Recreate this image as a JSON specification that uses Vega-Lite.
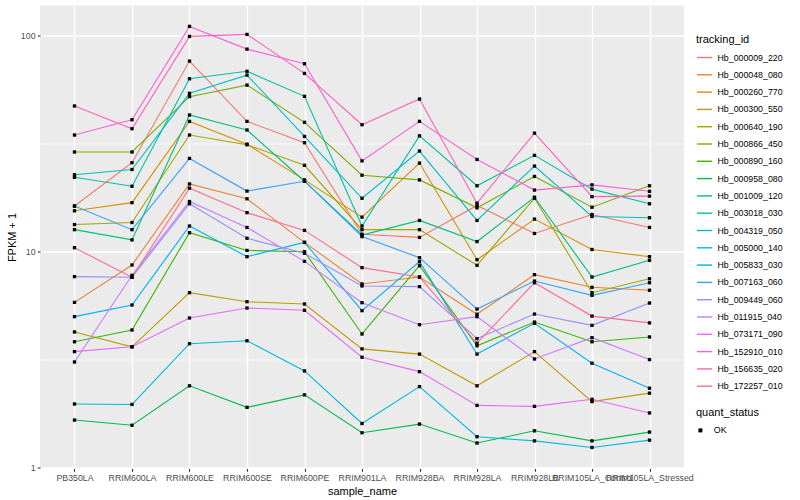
{
"$schema": "https://vega.github.io/schema/vega-lite/v6.json",
"width": 644, "height": 463,
"autosize": {"type": "none"},
"padding": {"left": 40, "top": 5.5, "right": 116, "bottom": 31.5},
"config": {
  "font": "Liberation Sans",
  "view": {"fill": "#EBEBEB", "stroke": null},
  "axis": {"domain": false, "gridColor": "#FFFFFF", "tickColor": "#333333", "tickSize": 2.75, "tickWidth": 1.1, "labelColor": "#4D4D4D", "labelFontSize": 8.8, "titleFontSize": 11, "titleFontWeight": "normal", "titleColor": "#000000", "labelPadding": 2.2},
  "legend": {"titleFontSize": 11, "titleFontWeight": "normal", "labelFontSize": 8.8, "labelColor": "#000000", "titleColor": "#000000"}
},
"data": {"values": [
{"tracking_id":"Hb_000009_220","sample_name":"PB350LA","FPKM":16.2,"quant_status":"OK"},
{"tracking_id":"Hb_000009_220","sample_name":"RRIM600LA","FPKM":25.7,"quant_status":"OK"},
{"tracking_id":"Hb_000009_220","sample_name":"RRIM600LE","FPKM":75.8,"quant_status":"OK"},
{"tracking_id":"Hb_000009_220","sample_name":"RRIM600SE","FPKM":39.9,"quant_status":"OK"},
{"tracking_id":"Hb_000009_220","sample_name":"RRIM600PE","FPKM":31.8,"quant_status":"OK"},
{"tracking_id":"Hb_000009_220","sample_name":"RRIM901LA","FPKM":12.0,"quant_status":"OK"},
{"tracking_id":"Hb_000009_220","sample_name":"RRIM928BA","FPKM":11.6,"quant_status":"OK"},
{"tracking_id":"Hb_000009_220","sample_name":"RRIM928LA","FPKM":16.3,"quant_status":"OK"},
{"tracking_id":"Hb_000009_220","sample_name":"RRIM928LB","FPKM":12.1,"quant_status":"OK"},
{"tracking_id":"Hb_000009_220","sample_name":"RRIM105LA_Control","FPKM":14.8,"quant_status":"OK"},
{"tracking_id":"Hb_000009_220","sample_name":"RRIM105LA_Stressed","FPKM":12.9,"quant_status":"OK"},
{"tracking_id":"Hb_000048_080","sample_name":"PB350LA","FPKM":5.81,"quant_status":"OK"},
{"tracking_id":"Hb_000048_080","sample_name":"RRIM600LA","FPKM":8.65,"quant_status":"OK"},
{"tracking_id":"Hb_000048_080","sample_name":"RRIM600LE","FPKM":20.5,"quant_status":"OK"},
{"tracking_id":"Hb_000048_080","sample_name":"RRIM600SE","FPKM":17.5,"quant_status":"OK"},
{"tracking_id":"Hb_000048_080","sample_name":"RRIM600PE","FPKM":11.0,"quant_status":"OK"},
{"tracking_id":"Hb_000048_080","sample_name":"RRIM901LA","FPKM":7.07,"quant_status":"OK"},
{"tracking_id":"Hb_000048_080","sample_name":"RRIM928BA","FPKM":7.61,"quant_status":"OK"},
{"tracking_id":"Hb_000048_080","sample_name":"RRIM928LA","FPKM":5.12,"quant_status":"OK"},
{"tracking_id":"Hb_000048_080","sample_name":"RRIM928LB","FPKM":7.80,"quant_status":"OK"},
{"tracking_id":"Hb_000048_080","sample_name":"RRIM105LA_Control","FPKM":6.82,"quant_status":"OK"},
{"tracking_id":"Hb_000048_080","sample_name":"RRIM105LA_Stressed","FPKM":6.61,"quant_status":"OK"},
{"tracking_id":"Hb_000260_770","sample_name":"PB350LA","FPKM":15.4,"quant_status":"OK"},
{"tracking_id":"Hb_000260_770","sample_name":"RRIM600LA","FPKM":16.8,"quant_status":"OK"},
{"tracking_id":"Hb_000260_770","sample_name":"RRIM600LE","FPKM":39.9,"quant_status":"OK"},
{"tracking_id":"Hb_000260_770","sample_name":"RRIM600SE","FPKM":31.3,"quant_status":"OK"},
{"tracking_id":"Hb_000260_770","sample_name":"RRIM600PE","FPKM":21.4,"quant_status":"OK"},
{"tracking_id":"Hb_000260_770","sample_name":"RRIM901LA","FPKM":14.4,"quant_status":"OK"},
{"tracking_id":"Hb_000260_770","sample_name":"RRIM928BA","FPKM":25.6,"quant_status":"OK"},
{"tracking_id":"Hb_000260_770","sample_name":"RRIM928LA","FPKM":9.15,"quant_status":"OK"},
{"tracking_id":"Hb_000260_770","sample_name":"RRIM928LB","FPKM":14.1,"quant_status":"OK"},
{"tracking_id":"Hb_000260_770","sample_name":"RRIM105LA_Control","FPKM":10.2,"quant_status":"OK"},
{"tracking_id":"Hb_000260_770","sample_name":"RRIM105LA_Stressed","FPKM":9.45,"quant_status":"OK"},
{"tracking_id":"Hb_000300_550","sample_name":"PB350LA","FPKM":4.24,"quant_status":"OK"},
{"tracking_id":"Hb_000300_550","sample_name":"RRIM600LA","FPKM":3.62,"quant_status":"OK"},
{"tracking_id":"Hb_000300_550","sample_name":"RRIM600LE","FPKM":6.44,"quant_status":"OK"},
{"tracking_id":"Hb_000300_550","sample_name":"RRIM600SE","FPKM":5.85,"quant_status":"OK"},
{"tracking_id":"Hb_000300_550","sample_name":"RRIM600PE","FPKM":5.71,"quant_status":"OK"},
{"tracking_id":"Hb_000300_550","sample_name":"RRIM901LA","FPKM":3.54,"quant_status":"OK"},
{"tracking_id":"Hb_000300_550","sample_name":"RRIM928BA","FPKM":3.35,"quant_status":"OK"},
{"tracking_id":"Hb_000300_550","sample_name":"RRIM928LA","FPKM":2.39,"quant_status":"OK"},
{"tracking_id":"Hb_000300_550","sample_name":"RRIM928LB","FPKM":3.44,"quant_status":"OK"},
{"tracking_id":"Hb_000300_550","sample_name":"RRIM105LA_Control","FPKM":2.02,"quant_status":"OK"},
{"tracking_id":"Hb_000300_550","sample_name":"RRIM105LA_Stressed","FPKM":2.21,"quant_status":"OK"},
{"tracking_id":"Hb_000640_190","sample_name":"PB350LA","FPKM":13.3,"quant_status":"OK"},
{"tracking_id":"Hb_000640_190","sample_name":"RRIM600LA","FPKM":13.6,"quant_status":"OK"},
{"tracking_id":"Hb_000640_190","sample_name":"RRIM600LE","FPKM":34.5,"quant_status":"OK"},
{"tracking_id":"Hb_000640_190","sample_name":"RRIM600SE","FPKM":31.1,"quant_status":"OK"},
{"tracking_id":"Hb_000640_190","sample_name":"RRIM600PE","FPKM":25.0,"quant_status":"OK"},
{"tracking_id":"Hb_000640_190","sample_name":"RRIM901LA","FPKM":12.6,"quant_status":"OK"},
{"tracking_id":"Hb_000640_190","sample_name":"RRIM928BA","FPKM":12.6,"quant_status":"OK"},
{"tracking_id":"Hb_000640_190","sample_name":"RRIM928LA","FPKM":8.62,"quant_status":"OK"},
{"tracking_id":"Hb_000640_190","sample_name":"RRIM928LB","FPKM":17.6,"quant_status":"OK"},
{"tracking_id":"Hb_000640_190","sample_name":"RRIM105LA_Control","FPKM":6.44,"quant_status":"OK"},
{"tracking_id":"Hb_000640_190","sample_name":"RRIM105LA_Stressed","FPKM":7.47,"quant_status":"OK"},
{"tracking_id":"Hb_000866_450","sample_name":"PB350LA","FPKM":28.8,"quant_status":"OK"},
{"tracking_id":"Hb_000866_450","sample_name":"RRIM600LA","FPKM":28.8,"quant_status":"OK"},
{"tracking_id":"Hb_000866_450","sample_name":"RRIM600LE","FPKM":51.9,"quant_status":"OK"},
{"tracking_id":"Hb_000866_450","sample_name":"RRIM600SE","FPKM":58.7,"quant_status":"OK"},
{"tracking_id":"Hb_000866_450","sample_name":"RRIM600PE","FPKM":39.5,"quant_status":"OK"},
{"tracking_id":"Hb_000866_450","sample_name":"RRIM901LA","FPKM":22.5,"quant_status":"OK"},
{"tracking_id":"Hb_000866_450","sample_name":"RRIM928BA","FPKM":21.4,"quant_status":"OK"},
{"tracking_id":"Hb_000866_450","sample_name":"RRIM928LA","FPKM":15.9,"quant_status":"OK"},
{"tracking_id":"Hb_000866_450","sample_name":"RRIM928LB","FPKM":22.2,"quant_status":"OK"},
{"tracking_id":"Hb_000866_450","sample_name":"RRIM105LA_Control","FPKM":16.0,"quant_status":"OK"},
{"tracking_id":"Hb_000866_450","sample_name":"RRIM105LA_Stressed","FPKM":20.1,"quant_status":"OK"},
{"tracking_id":"Hb_000890_160","sample_name":"PB350LA","FPKM":3.82,"quant_status":"OK"},
{"tracking_id":"Hb_000890_160","sample_name":"RRIM600LA","FPKM":4.33,"quant_status":"OK"},
{"tracking_id":"Hb_000890_160","sample_name":"RRIM600LE","FPKM":12.2,"quant_status":"OK"},
{"tracking_id":"Hb_000890_160","sample_name":"RRIM600SE","FPKM":10.1,"quant_status":"OK"},
{"tracking_id":"Hb_000890_160","sample_name":"RRIM600PE","FPKM":9.96,"quant_status":"OK"},
{"tracking_id":"Hb_000890_160","sample_name":"RRIM901LA","FPKM":4.15,"quant_status":"OK"},
{"tracking_id":"Hb_000890_160","sample_name":"RRIM928BA","FPKM":8.58,"quant_status":"OK"},
{"tracking_id":"Hb_000890_160","sample_name":"RRIM928LA","FPKM":3.66,"quant_status":"OK"},
{"tracking_id":"Hb_000890_160","sample_name":"RRIM928LB","FPKM":4.71,"quant_status":"OK"},
{"tracking_id":"Hb_000890_160","sample_name":"RRIM105LA_Control","FPKM":3.82,"quant_status":"OK"},
{"tracking_id":"Hb_000890_160","sample_name":"RRIM105LA_Stressed","FPKM":4.02,"quant_status":"OK"},
{"tracking_id":"Hb_000958_080","sample_name":"PB350LA","FPKM":1.66,"quant_status":"OK"},
{"tracking_id":"Hb_000958_080","sample_name":"RRIM600LA","FPKM":1.57,"quant_status":"OK"},
{"tracking_id":"Hb_000958_080","sample_name":"RRIM600LE","FPKM":2.39,"quant_status":"OK"},
{"tracking_id":"Hb_000958_080","sample_name":"RRIM600SE","FPKM":1.90,"quant_status":"OK"},
{"tracking_id":"Hb_000958_080","sample_name":"RRIM600PE","FPKM":2.17,"quant_status":"OK"},
{"tracking_id":"Hb_000958_080","sample_name":"RRIM901LA","FPKM":1.45,"quant_status":"OK"},
{"tracking_id":"Hb_000958_080","sample_name":"RRIM928BA","FPKM":1.59,"quant_status":"OK"},
{"tracking_id":"Hb_000958_080","sample_name":"RRIM928LA","FPKM":1.30,"quant_status":"OK"},
{"tracking_id":"Hb_000958_080","sample_name":"RRIM928LB","FPKM":1.48,"quant_status":"OK"},
{"tracking_id":"Hb_000958_080","sample_name":"RRIM105LA_Control","FPKM":1.33,"quant_status":"OK"},
{"tracking_id":"Hb_000958_080","sample_name":"RRIM105LA_Stressed","FPKM":1.46,"quant_status":"OK"},
{"tracking_id":"Hb_001009_120","sample_name":"PB350LA","FPKM":12.6,"quant_status":"OK"},
{"tracking_id":"Hb_001009_120","sample_name":"RRIM600LA","FPKM":11.3,"quant_status":"OK"},
{"tracking_id":"Hb_001009_120","sample_name":"RRIM600LE","FPKM":42.7,"quant_status":"OK"},
{"tracking_id":"Hb_001009_120","sample_name":"RRIM600SE","FPKM":36.4,"quant_status":"OK"},
{"tracking_id":"Hb_001009_120","sample_name":"RRIM600PE","FPKM":21.1,"quant_status":"OK"},
{"tracking_id":"Hb_001009_120","sample_name":"RRIM901LA","FPKM":11.9,"quant_status":"OK"},
{"tracking_id":"Hb_001009_120","sample_name":"RRIM928BA","FPKM":13.9,"quant_status":"OK"},
{"tracking_id":"Hb_001009_120","sample_name":"RRIM928LA","FPKM":11.1,"quant_status":"OK"},
{"tracking_id":"Hb_001009_120","sample_name":"RRIM928LB","FPKM":17.8,"quant_status":"OK"},
{"tracking_id":"Hb_001009_120","sample_name":"RRIM105LA_Control","FPKM":7.61,"quant_status":"OK"},
{"tracking_id":"Hb_001009_120","sample_name":"RRIM105LA_Stressed","FPKM":9.09,"quant_status":"OK"},
{"tracking_id":"Hb_003018_030","sample_name":"PB350LA","FPKM":22.0,"quant_status":"OK"},
{"tracking_id":"Hb_003018_030","sample_name":"RRIM600LA","FPKM":20.0,"quant_status":"OK"},
{"tracking_id":"Hb_003018_030","sample_name":"RRIM600LE","FPKM":62.8,"quant_status":"OK"},
{"tracking_id":"Hb_003018_030","sample_name":"RRIM600SE","FPKM":68.0,"quant_status":"OK"},
{"tracking_id":"Hb_003018_030","sample_name":"RRIM600PE","FPKM":52.1,"quant_status":"OK"},
{"tracking_id":"Hb_003018_030","sample_name":"RRIM901LA","FPKM":13.1,"quant_status":"OK"},
{"tracking_id":"Hb_003018_030","sample_name":"RRIM928BA","FPKM":34.2,"quant_status":"OK"},
{"tracking_id":"Hb_003018_030","sample_name":"RRIM928LA","FPKM":20.1,"quant_status":"OK"},
{"tracking_id":"Hb_003018_030","sample_name":"RRIM928LB","FPKM":27.8,"quant_status":"OK"},
{"tracking_id":"Hb_003018_030","sample_name":"RRIM105LA_Control","FPKM":19.4,"quant_status":"OK"},
{"tracking_id":"Hb_003018_030","sample_name":"RRIM105LA_Stressed","FPKM":16.6,"quant_status":"OK"},
{"tracking_id":"Hb_004319_050","sample_name":"PB350LA","FPKM":22.6,"quant_status":"OK"},
{"tracking_id":"Hb_004319_050","sample_name":"RRIM600LA","FPKM":23.9,"quant_status":"OK"},
{"tracking_id":"Hb_004319_050","sample_name":"RRIM600LE","FPKM":53.8,"quant_status":"OK"},
{"tracking_id":"Hb_004319_050","sample_name":"RRIM600SE","FPKM":65.3,"quant_status":"OK"},
{"tracking_id":"Hb_004319_050","sample_name":"RRIM600PE","FPKM":34.0,"quant_status":"OK"},
{"tracking_id":"Hb_004319_050","sample_name":"RRIM901LA","FPKM":17.6,"quant_status":"OK"},
{"tracking_id":"Hb_004319_050","sample_name":"RRIM928BA","FPKM":29.1,"quant_status":"OK"},
{"tracking_id":"Hb_004319_050","sample_name":"RRIM928LA","FPKM":13.9,"quant_status":"OK"},
{"tracking_id":"Hb_004319_050","sample_name":"RRIM928LB","FPKM":24.8,"quant_status":"OK"},
{"tracking_id":"Hb_004319_050","sample_name":"RRIM105LA_Control","FPKM":14.5,"quant_status":"OK"},
{"tracking_id":"Hb_004319_050","sample_name":"RRIM105LA_Stressed","FPKM":14.3,"quant_status":"OK"},
{"tracking_id":"Hb_005000_140","sample_name":"PB350LA","FPKM":1.97,"quant_status":"OK"},
{"tracking_id":"Hb_005000_140","sample_name":"RRIM600LA","FPKM":1.96,"quant_status":"OK"},
{"tracking_id":"Hb_005000_140","sample_name":"RRIM600LE","FPKM":3.74,"quant_status":"OK"},
{"tracking_id":"Hb_005000_140","sample_name":"RRIM600SE","FPKM":3.86,"quant_status":"OK"},
{"tracking_id":"Hb_005000_140","sample_name":"RRIM600PE","FPKM":2.80,"quant_status":"OK"},
{"tracking_id":"Hb_005000_140","sample_name":"RRIM901LA","FPKM":1.60,"quant_status":"OK"},
{"tracking_id":"Hb_005000_140","sample_name":"RRIM928BA","FPKM":2.37,"quant_status":"OK"},
{"tracking_id":"Hb_005000_140","sample_name":"RRIM928LA","FPKM":1.39,"quant_status":"OK"},
{"tracking_id":"Hb_005000_140","sample_name":"RRIM928LB","FPKM":1.33,"quant_status":"OK"},
{"tracking_id":"Hb_005000_140","sample_name":"RRIM105LA_Control","FPKM":1.24,"quant_status":"OK"},
{"tracking_id":"Hb_005000_140","sample_name":"RRIM105LA_Stressed","FPKM":1.34,"quant_status":"OK"},
{"tracking_id":"Hb_005833_030","sample_name":"PB350LA","FPKM":4.99,"quant_status":"OK"},
{"tracking_id":"Hb_005833_030","sample_name":"RRIM600LA","FPKM":5.65,"quant_status":"OK"},
{"tracking_id":"Hb_005833_030","sample_name":"RRIM600LE","FPKM":13.1,"quant_status":"OK"},
{"tracking_id":"Hb_005833_030","sample_name":"RRIM600SE","FPKM":9.45,"quant_status":"OK"},
{"tracking_id":"Hb_005833_030","sample_name":"RRIM600PE","FPKM":11.0,"quant_status":"OK"},
{"tracking_id":"Hb_005833_030","sample_name":"RRIM901LA","FPKM":5.32,"quant_status":"OK"},
{"tracking_id":"Hb_005833_030","sample_name":"RRIM928BA","FPKM":8.96,"quant_status":"OK"},
{"tracking_id":"Hb_005833_030","sample_name":"RRIM928LA","FPKM":3.35,"quant_status":"OK"},
{"tracking_id":"Hb_005833_030","sample_name":"RRIM928LB","FPKM":4.65,"quant_status":"OK"},
{"tracking_id":"Hb_005833_030","sample_name":"RRIM105LA_Control","FPKM":3.04,"quant_status":"OK"},
{"tracking_id":"Hb_005833_030","sample_name":"RRIM105LA_Stressed","FPKM":2.33,"quant_status":"OK"},
{"tracking_id":"Hb_007163_060","sample_name":"PB350LA","FPKM":16.2,"quant_status":"OK"},
{"tracking_id":"Hb_007163_060","sample_name":"RRIM600LA","FPKM":12.6,"quant_status":"OK"},
{"tracking_id":"Hb_007163_060","sample_name":"RRIM600LE","FPKM":26.9,"quant_status":"OK"},
{"tracking_id":"Hb_007163_060","sample_name":"RRIM600SE","FPKM":19.0,"quant_status":"OK"},
{"tracking_id":"Hb_007163_060","sample_name":"RRIM600PE","FPKM":21.1,"quant_status":"OK"},
{"tracking_id":"Hb_007163_060","sample_name":"RRIM901LA","FPKM":11.7,"quant_status":"OK"},
{"tracking_id":"Hb_007163_060","sample_name":"RRIM928BA","FPKM":9.35,"quant_status":"OK"},
{"tracking_id":"Hb_007163_060","sample_name":"RRIM928LA","FPKM":5.41,"quant_status":"OK"},
{"tracking_id":"Hb_007163_060","sample_name":"RRIM928LB","FPKM":7.29,"quant_status":"OK"},
{"tracking_id":"Hb_007163_060","sample_name":"RRIM105LA_Control","FPKM":6.26,"quant_status":"OK"},
{"tracking_id":"Hb_007163_060","sample_name":"RRIM105LA_Stressed","FPKM":7.16,"quant_status":"OK"},
{"tracking_id":"Hb_009449_060","sample_name":"PB350LA","FPKM":7.64,"quant_status":"OK"},
{"tracking_id":"Hb_009449_060","sample_name":"RRIM600LA","FPKM":7.59,"quant_status":"OK"},
{"tracking_id":"Hb_009449_060","sample_name":"RRIM600LE","FPKM":16.6,"quant_status":"OK"},
{"tracking_id":"Hb_009449_060","sample_name":"RRIM600SE","FPKM":11.5,"quant_status":"OK"},
{"tracking_id":"Hb_009449_060","sample_name":"RRIM600PE","FPKM":9.80,"quant_status":"OK"},
{"tracking_id":"Hb_009449_060","sample_name":"RRIM901LA","FPKM":6.92,"quant_status":"OK"},
{"tracking_id":"Hb_009449_060","sample_name":"RRIM928BA","FPKM":6.87,"quant_status":"OK"},
{"tracking_id":"Hb_009449_060","sample_name":"RRIM928LA","FPKM":3.95,"quant_status":"OK"},
{"tracking_id":"Hb_009449_060","sample_name":"RRIM928LB","FPKM":5.13,"quant_status":"OK"},
{"tracking_id":"Hb_009449_060","sample_name":"RRIM105LA_Control","FPKM":4.55,"quant_status":"OK"},
{"tracking_id":"Hb_009449_060","sample_name":"RRIM105LA_Stressed","FPKM":5.77,"quant_status":"OK"},
{"tracking_id":"Hb_011915_040","sample_name":"PB350LA","FPKM":3.08,"quant_status":"OK"},
{"tracking_id":"Hb_011915_040","sample_name":"RRIM600LA","FPKM":7.75,"quant_status":"OK"},
{"tracking_id":"Hb_011915_040","sample_name":"RRIM600LE","FPKM":17.0,"quant_status":"OK"},
{"tracking_id":"Hb_011915_040","sample_name":"RRIM600SE","FPKM":12.9,"quant_status":"OK"},
{"tracking_id":"Hb_011915_040","sample_name":"RRIM600PE","FPKM":8.99,"quant_status":"OK"},
{"tracking_id":"Hb_011915_040","sample_name":"RRIM901LA","FPKM":5.79,"quant_status":"OK"},
{"tracking_id":"Hb_011915_040","sample_name":"RRIM928BA","FPKM":4.58,"quant_status":"OK"},
{"tracking_id":"Hb_011915_040","sample_name":"RRIM928LA","FPKM":4.99,"quant_status":"OK"},
{"tracking_id":"Hb_011915_040","sample_name":"RRIM928LB","FPKM":3.18,"quant_status":"OK"},
{"tracking_id":"Hb_011915_040","sample_name":"RRIM105LA_Control","FPKM":3.99,"quant_status":"OK"},
{"tracking_id":"Hb_011915_040","sample_name":"RRIM105LA_Stressed","FPKM":3.16,"quant_status":"OK"},
{"tracking_id":"Hb_073171_090","sample_name":"PB350LA","FPKM":3.44,"quant_status":"OK"},
{"tracking_id":"Hb_073171_090","sample_name":"RRIM600LA","FPKM":3.62,"quant_status":"OK"},
{"tracking_id":"Hb_073171_090","sample_name":"RRIM600LE","FPKM":4.92,"quant_status":"OK"},
{"tracking_id":"Hb_073171_090","sample_name":"RRIM600SE","FPKM":5.47,"quant_status":"OK"},
{"tracking_id":"Hb_073171_090","sample_name":"RRIM600PE","FPKM":5.34,"quant_status":"OK"},
{"tracking_id":"Hb_073171_090","sample_name":"RRIM901LA","FPKM":3.24,"quant_status":"OK"},
{"tracking_id":"Hb_073171_090","sample_name":"RRIM928BA","FPKM":2.78,"quant_status":"OK"},
{"tracking_id":"Hb_073171_090","sample_name":"RRIM928LA","FPKM":1.94,"quant_status":"OK"},
{"tracking_id":"Hb_073171_090","sample_name":"RRIM928LB","FPKM":1.92,"quant_status":"OK"},
{"tracking_id":"Hb_073171_090","sample_name":"RRIM105LA_Control","FPKM":2.07,"quant_status":"OK"},
{"tracking_id":"Hb_073171_090","sample_name":"RRIM105LA_Stressed","FPKM":1.79,"quant_status":"OK"},
{"tracking_id":"Hb_152910_010","sample_name":"PB350LA","FPKM":34.5,"quant_status":"OK"},
{"tracking_id":"Hb_152910_010","sample_name":"RRIM600LA","FPKM":40.6,"quant_status":"OK"},
{"tracking_id":"Hb_152910_010","sample_name":"RRIM600LE","FPKM":109.7,"quant_status":"OK"},
{"tracking_id":"Hb_152910_010","sample_name":"RRIM600SE","FPKM":86.1,"quant_status":"OK"},
{"tracking_id":"Hb_152910_010","sample_name":"RRIM600PE","FPKM":73.7,"quant_status":"OK"},
{"tracking_id":"Hb_152910_010","sample_name":"RRIM901LA","FPKM":26.2,"quant_status":"OK"},
{"tracking_id":"Hb_152910_010","sample_name":"RRIM928BA","FPKM":39.9,"quant_status":"OK"},
{"tracking_id":"Hb_152910_010","sample_name":"RRIM928LA","FPKM":26.6,"quant_status":"OK"},
{"tracking_id":"Hb_152910_010","sample_name":"RRIM928LB","FPKM":19.2,"quant_status":"OK"},
{"tracking_id":"Hb_152910_010","sample_name":"RRIM105LA_Control","FPKM":20.3,"quant_status":"OK"},
{"tracking_id":"Hb_152910_010","sample_name":"RRIM105LA_Stressed","FPKM":18.95,"quant_status":"OK"},
{"tracking_id":"Hb_156635_020","sample_name":"PB350LA","FPKM":47.0,"quant_status":"OK"},
{"tracking_id":"Hb_156635_020","sample_name":"RRIM600LA","FPKM":36.9,"quant_status":"OK"},
{"tracking_id":"Hb_156635_020","sample_name":"RRIM600LE","FPKM":98.6,"quant_status":"OK"},
{"tracking_id":"Hb_156635_020","sample_name":"RRIM600SE","FPKM":100.7,"quant_status":"OK"},
{"tracking_id":"Hb_156635_020","sample_name":"RRIM600PE","FPKM":66.5,"quant_status":"OK"},
{"tracking_id":"Hb_156635_020","sample_name":"RRIM901LA","FPKM":38.5,"quant_status":"OK"},
{"tracking_id":"Hb_156635_020","sample_name":"RRIM928BA","FPKM":50.6,"quant_status":"OK"},
{"tracking_id":"Hb_156635_020","sample_name":"RRIM928LA","FPKM":16.7,"quant_status":"OK"},
{"tracking_id":"Hb_156635_020","sample_name":"RRIM928LB","FPKM":35.2,"quant_status":"OK"},
{"tracking_id":"Hb_156635_020","sample_name":"RRIM105LA_Control","FPKM":17.9,"quant_status":"OK"},
{"tracking_id":"Hb_156635_020","sample_name":"RRIM105LA_Stressed","FPKM":18.0,"quant_status":"OK"},
{"tracking_id":"Hb_172257_010","sample_name":"PB350LA","FPKM":10.4,"quant_status":"OK"},
{"tracking_id":"Hb_172257_010","sample_name":"RRIM600LA","FPKM":7.59,"quant_status":"OK"},
{"tracking_id":"Hb_172257_010","sample_name":"RRIM600LE","FPKM":19.6,"quant_status":"OK"},
{"tracking_id":"Hb_172257_010","sample_name":"RRIM600SE","FPKM":15.1,"quant_status":"OK"},
{"tracking_id":"Hb_172257_010","sample_name":"RRIM600PE","FPKM":12.5,"quant_status":"OK"},
{"tracking_id":"Hb_172257_010","sample_name":"RRIM901LA","FPKM":8.41,"quant_status":"OK"},
{"tracking_id":"Hb_172257_010","sample_name":"RRIM928BA","FPKM":7.61,"quant_status":"OK"},
{"tracking_id":"Hb_172257_010","sample_name":"RRIM928LA","FPKM":3.76,"quant_status":"OK"},
{"tracking_id":"Hb_172257_010","sample_name":"RRIM928LB","FPKM":7.16,"quant_status":"OK"},
{"tracking_id":"Hb_172257_010","sample_name":"RRIM105LA_Control","FPKM":5.02,"quant_status":"OK"},
{"tracking_id":"Hb_172257_010","sample_name":"RRIM105LA_Stressed","FPKM":4.67,"quant_status":"OK"}
]},
"encoding": {
  "x": {"field": "sample_name", "type": "nominal",
        "sort": ["PB350LA","RRIM600LA","RRIM600LE","RRIM600SE","RRIM600PE","RRIM901LA","RRIM928BA","RRIM928LA","RRIM928LB","RRIM105LA_Control","RRIM105LA_Stressed"],
        "scale": {"type": "point", "padding": 0.6},
        "axis": {"labelAngle": 0, "title": "sample_name", "grid": true, "gridWidth": 1.4, "labelOverlap": false, "labelBound": false, "labelFlush": false, "titlePadding": 3}},
  "y": {"field": "FPKM", "type": "quantitative",
        "scale": {"type": "log", "domain": [0.991, 137], "nice": false},
        "axis": {"title": "FPKM + 1", "values": [1, 3.1623, 10, 31.623, 100], "grid": true,
                 "labelExpr": "(datum.value == 1 || datum.value == 10 || datum.value == 100) ? format(datum.value, 'd') : ''",
                 "gridWidth": {"condition": {"test": "datum.value == 1 || datum.value == 10 || datum.value == 100", "value": 1.4}, "value": 0.7},
                 "tickOpacity": {"condition": {"test": "datum.value == 1 || datum.value == 10 || datum.value == 100", "value": 1}, "value": 0},
                 "labelOverlap": false, "labelFlush": false, "titlePadding": 3}}
},
"layer": [
  {"mark": {"type": "line", "strokeWidth": 1.1},
   "encoding": {"color": {"field": "tracking_id", "type": "nominal",
      "scale": {"range": ["#F8766D","#EA8331","#D89000","#C09B00","#A3A500","#7CAE00","#39B600","#00BB4E","#00BF7D","#00C1A3","#00BFC4","#00BAE0","#00B0F6","#35A2FF","#9590FF","#C77CFF","#E76BF3","#FA62DB","#FF62BC","#FF6C91"]},
      "legend": {"orient": "none", "legendX": 656, "legendY": 28.5, "title": "tracking_id", "symbolType": "stroke", "symbolSize": 225, "symbolStrokeWidth": 1.4, "titlePadding": 4, "rowPadding": 3.3, "labelOffset": 4.5}}}},
  {"mark": {"type": "point", "shape": "square", "filled": true, "size": 11, "color": "#000000", "opacity": 1},
   "encoding": {"shape": {"field": "quant_status", "type": "nominal", "scale": {"range": ["square"]},
      "legend": {"orient": "none", "legendX": 656, "legendY": 401.5, "title": "quant_status", "symbolSize": 16, "symbolFillColor": "#000000", "symbolStrokeColor": "#000000", "titlePadding": 8, "labelOffset": 9}}}}
]
}
